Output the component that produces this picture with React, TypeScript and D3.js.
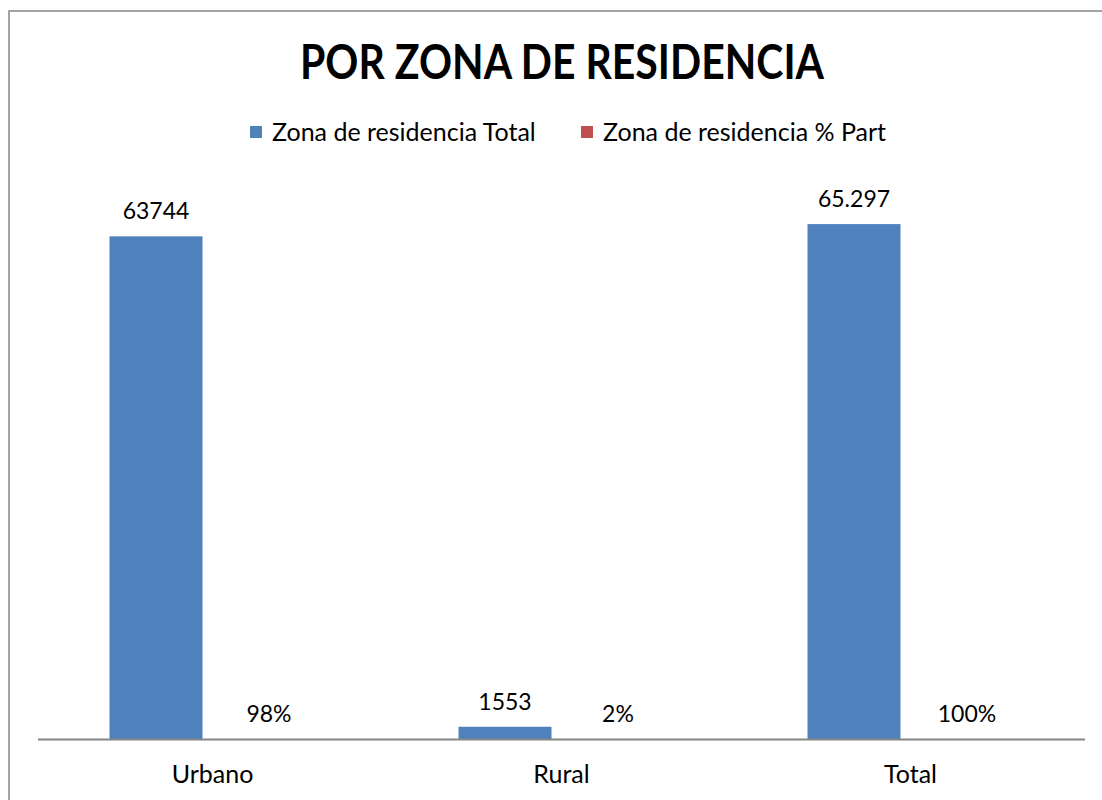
import React from 'react'
import * as d3 from 'd3'

const categories = ['Urbano', 'Rural', 'Total']
const seriesNames = ['Zona de residencia Total', 'Zona de residencia % Part']
const seriesColors = ['#4f81bd', '#c0504d']
const totalValues = [63744, 1553, 65297]
const totalLabels = ['63744', '1553', '65.297']
const partValues = [0.98, 0.02, 1]
const partLabels = ['98%', '2%', '100%']

const width = 1102
const height = 800
const font = 'Lato, "Open Sans", sans-serif'

export default function App() {
  const x0 = d3.scaleBand().domain(categories).range([38, 1085])
  const x1 = d3
    .scaleBand()
    .domain(['total', 'part'])
    .range([0, x0.bandwidth()])
    .paddingInner(0.177)
    .paddingOuter(0.633)
  const y = d3.scaleLinear().domain([0, 70000]).range([739, 187])

  const series = [
    { key: 'total', values: totalValues, labels: totalLabels, color: seriesColors[0] },
    { key: 'part', values: partValues, labels: partLabels, color: seriesColors[1] }
  ]

  return (
    <svg
      width={width}
      height={height}
      style={{ position: 'absolute', left: 0, top: 0, background: '#fff' }}
      fontFamily={font}>
      <rect x={9} y={11} width={width + 10} height={height + 10} fill='#fff' stroke='#868686' strokeWidth={1.5} />

      <text
        x={562}
        y={79}
        textAnchor='middle'
        fontSize={48}
        fontWeight='bold'
        fill='#000'
        textLength={524}
        lengthAdjust='spacingAndGlyphs'>
        POR ZONA DE RESIDENCIA
      </text>

      <g className='legend'>
        {seriesNames.map((s, i) => (
          <g key={s} transform={`translate(${i === 0 ? 250 : 581},126)`}>
            <rect width={12} height={12} fill={seriesColors[i]} />
            <text x={22} y={15} fontSize={25} fill='#000'>
              {s}
            </text>
          </g>
        ))}
      </g>

      {series.map(s => (
        <g key={s.key}>
          {categories.map((c, i) => {
            const bx = x0(c)! + x1(s.key)!
            const top = y(s.values[i])
            return (
              <g key={c}>
                <rect x={bx} y={top} width={x1.bandwidth()} height={y(0) - top} fill={s.color} />
                <text
                  x={bx + x1.bandwidth() / 2}
                  y={top - 17}
                  textAnchor='middle'
                  fontSize={23}
                  fill='#000'>
                  {s.labels[i]}
                </text>
              </g>
            )
          })}
        </g>
      ))}

      <line x1={38} x2={1085} y1={739.5} y2={739.5} stroke='#868686' strokeWidth={2} />

      {categories.map(c => (
        <text
          key={c}
          x={x0(c)! + x0.bandwidth() / 2}
          y={783}
          textAnchor='middle'
          fontSize={25}
          fill='#000'>
          {c}
        </text>
      ))}
    </svg>
  )
}
